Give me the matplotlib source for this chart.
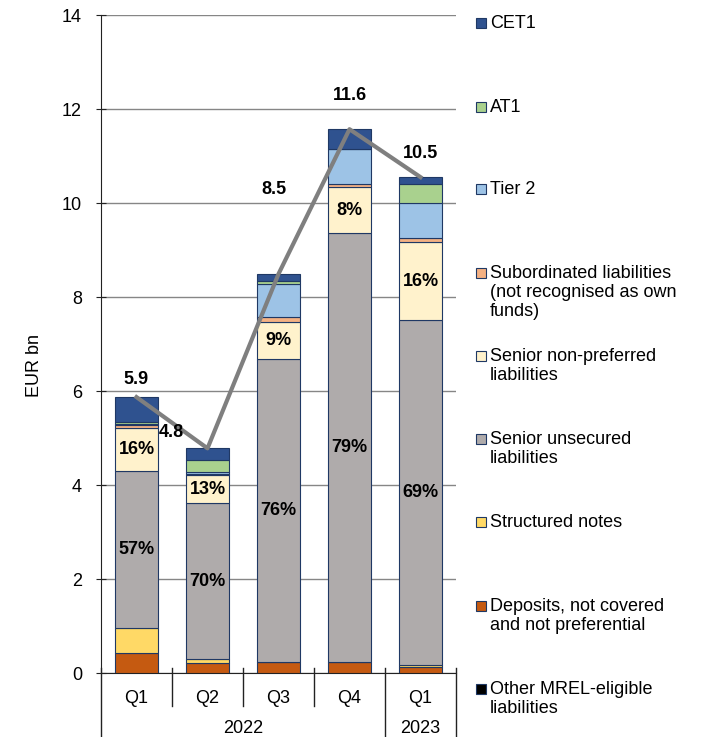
import matplotlib.pyplot as plt
from matplotlib.patches import Rectangle
import numpy as np

plt.rcParams['font.family'] = ['Liberation Sans', 'DejaVu Sans']
plt.rcParams['font.size'] = 13

# Datos (EUR bn)
quarters = ['Q1', 'Q2', 'Q3', 'Q4', 'Q1']
years = ['2022', '2023']
other_mrel = [0.0, 0.0, 0.0, 0.0, 0.0]
deposits = [0.43, 0.22, 0.24, 0.24, 0.13]
structured = [0.52, 0.07, 0.0, 0.0, 0.05]
senior_unsec = [3.34, 3.32, 6.45, 9.12, 7.33]
senior_np = [0.92, 0.60, 0.77, 0.97, 1.65]
subordinated = [0.06, 0.03, 0.11, 0.07, 0.09]
tier2 = [0.03, 0.03, 0.71, 0.74, 0.74]
at1 = [0.04, 0.26, 0.07, 0.0, 0.41]
cet1 = [0.53, 0.25, 0.14, 0.43, 0.15]
totals = ['5.9', '4.8', '8.5', '11.6', '10.5']
su_pct = ['57%', '70%', '76%', '79%', '69%']
snp_pct = ['16%', '13%', '9%', '8%', '16%']

series = [
    ('Other MREL-eligible\nliabilities', other_mrel, '#000000'),
    ('Deposits, not covered\nand not preferential', deposits, '#c55a11'),
    ('Structured notes', structured, '#ffd966'),
    ('Senior unsecured\nliabilities', senior_unsec, '#afabab'),
    ('Senior non-preferred\nliabilities', senior_np, '#fff2cc'),
    ('Subordinated liabilities\n(not recognised as own\nfunds)', subordinated, '#f4b183'),
    ('Tier 2', tier2, '#9dc3e6'),
    ('AT1', at1, '#a9d18e'),
    ('CET1', cet1, '#2f528f'),
]

edge = '#1f3864'
fig = plt.figure(figsize=(7.02, 7.37), dpi=100)
ax = fig.add_axes([101 / 702, 64 / 737, 355 / 702, 658 / 737])

x = np.arange(len(quarters))
bottom = np.zeros(len(quarters))
for name, vals, col in series:
    vals = np.array(vals)
    ax.bar(x, vals, 0.6, bottom=bottom, color=col,
           edgecolor=edge, linewidth=0.8, zorder=3)
    bottom = bottom + vals

# Porcentajes dentro de las barras
su_bottom = np.array(other_mrel) + np.array(deposits) + np.array(structured)
for i in range(len(x)):
    ax.text(x[i], su_bottom[i] + senior_unsec[i] / 2, su_pct[i], ha='center',
            va='center', fontweight='bold', zorder=5)
    ax.text(x[i], su_bottom[i] + senior_unsec[i] + senior_np[i] / 2, snp_pct[i],
            ha='center', va='center', fontweight='bold', zorder=5)

# Linea del total
ax.plot(x, bottom, color='#7f7f7f', linewidth=3, zorder=6)
offsets = [(0, 9), (-36, 7), (-5, 76), (0, 25), (0, 15)]
for i in range(len(x)):
    ax.annotate(totals[i], (x[i], bottom[i]), xytext=offsets[i],
                textcoords='offset pixels', ha='center', va='bottom',
                fontweight='bold', zorder=7)

# Ejes
ax.set_xlim(-0.5, 4.5)
ax.set_ylim(0, 14)
ax.set_yticks(range(0, 15, 2))
ax.yaxis.grid(True, color='#868686', linewidth=1)
ax.set_axisbelow(True)
for s in ['top', 'right']:
    ax.spines[s].set_visible(False)
ax.spines['left'].set_color('#222222')
ax.spines['bottom'].set_color('#222222')
ax.tick_params(axis='y', direction='inout', length=7.5, pad=10, color='#222222')
ax.set_xticks(x, quarters)
ax.tick_params(axis='x', length=0, pad=12)
ax.set_ylabel('EUR bn')
ax.yaxis.set_label_coords(-0.163, 0.467)

# Separadores del eje x
tr = ax.get_xaxis_transform()
for b in np.arange(-0.5, 5, 1.0):
    low = -0.11 if b in (-0.5, 3.5, 4.5) else -0.05
    ax.plot([b, b], [0.008, low], transform=tr, color='#222222',
            linewidth=1, clip_on=False)
ax.text(1.5, -0.084, years[0], transform=tr, ha='center', va='center')
ax.text(4.0, -0.084, years[1], transform=tr, ha='center', va='center')

# Leyenda manual
legend_rows = [23, 107, 189, 273, 356, 439, 522, 606, 689]
for (name, vals, col), yp in zip(series[::-1], legend_rows):
    fy = 1 - yp / 737
    fig.patches.append(Rectangle((476 / 702, fy - 5 / 737), 10 / 702, 10 / 737,
                                 transform=fig.transFigure, facecolor=col,
                                 edgecolor=edge, linewidth=0.8))
    fig.text(490 / 702, fy + 8 / 737, name, ha='left', va='top',
             linespacing=1.17)

fig.savefig('out.png', dpi=100)
